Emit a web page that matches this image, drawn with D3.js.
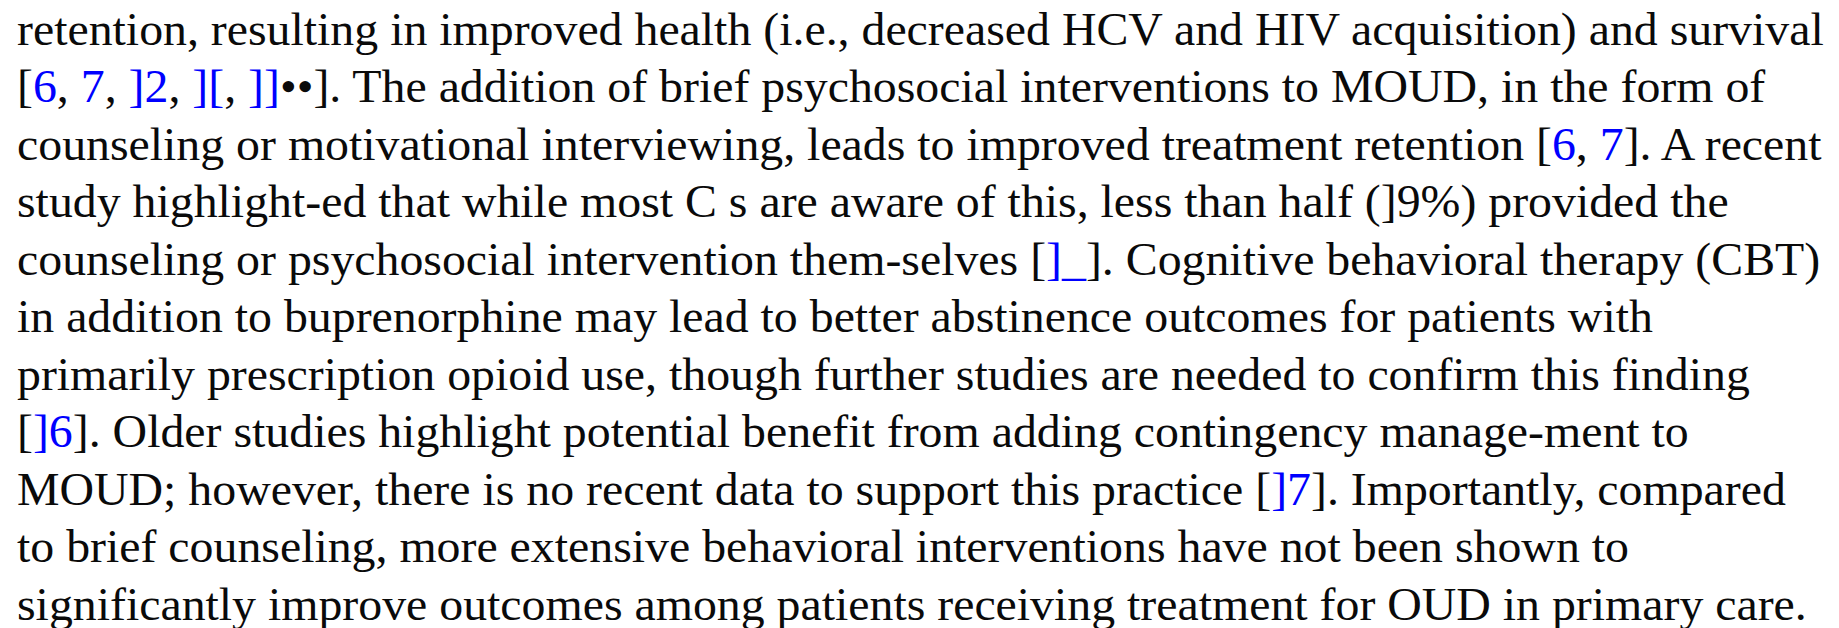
<!DOCTYPE html>
<html>
<head>
<meta charset="utf-8">
<script src="https://cdn.jsdelivr.net/npm/d3@7"></script>
<style>
  html, body { margin: 0; padding: 0; background: #fff; overflow: hidden; }
  svg { display: block; }
</style>
</head>
<body>
<svg id="page"></svg>
<script>
// Paragraph text, one entry per printed line. {...} marks blue link text.
const lines = [
  'retention, resulting in improved health (i.e., decreased HCV and HIV acquisition) and survival',
  '[{6}, {7}, {]2}, {][}, {]]}••]. The addition of brief psychosocial interventions to MOUD, in the form of',
  'counseling or motivational interviewing, leads to improved treatment retention [{6}, {7}]. A recent',
  'study highlight-ed that while most C s are aware of this, less than half (]9%) provided the',
  'counseling or psychosocial intervention them-selves [{]_}]. Cognitive behavioral therapy (CBT)',
  'in addition to buprenorphine may lead to better abstinence outcomes for patients with',
  'primarily prescription opioid use, though further studies are needed to confirm this finding',
  '[{]6}]. Older studies highlight potential benefit from adding contingency manage-ment to',
  'MOUD; however, there is no recent data to support this practice [{]7}]. Importantly, compared',
  'to brief counseling, more extensive behavioral interventions have not been shown to',
  'significantly improve outcomes among patients receiving treatment for OUD in primary care.'
];

const textColor = '#0a0a0a';
const linkColor = '#0000ff';

const width = 1839;
const height = 628;
const fontSize = 47;
const left = 17;
const lastLineRight = 1807;

const svg = d3.select('#page')
  .attr('width', width)
  .attr('height', height);

svg.append('rect')
  .attr('width', width)
  .attr('height', height)
  .attr('fill', '#fff');

// split a line into plain / link segments
function parseLine(str) {
  const parts = [];
  const re = /\{([^}]*)\}|[^{]+/g;
  let m;
  while ((m = re.exec(str)) !== null) {
    if (m[1] !== undefined) parts.push({ text: m[1], link: true });
    else parts.push({ text: m[0], link: false });
  }
  return parts;
}

// baselines: first at 45, last at 620 (its descenders run off the page, as printed)
const y = d3.scaleLinear()
  .domain([0, lines.length - 1])
  .range([45, 620]);

const body = svg.append('g')
  .attr('transform', `translate(${left},0)`);

const texts = body.selectAll('text')
  .data(lines)
  .enter()
  .append('text')
  .attr('x', 0)
  .attr('y', (d, i) => y(i))
  .style('font-family', '"Liberation Serif", "Times New Roman", serif')
  .style('font-size', fontSize + 'px')
  .style('fill', textColor)
  .style('white-space', 'pre');

texts.selectAll('tspan')
  .data(d => parseLine(d))
  .enter()
  .append('tspan')
  .style('fill', d => d.link ? linkColor : textColor)
  .text(d => d.text);

// the print is slightly condensed; fit the last line to its printed width
const lastWidth = texts.nodes()[lines.length - 1].getComputedTextLength();
const sx = (lastLineRight - left) / lastWidth;
body.attr('transform', `translate(${left},0) scale(${sx},1)`);
</script>
</body>
</html>
